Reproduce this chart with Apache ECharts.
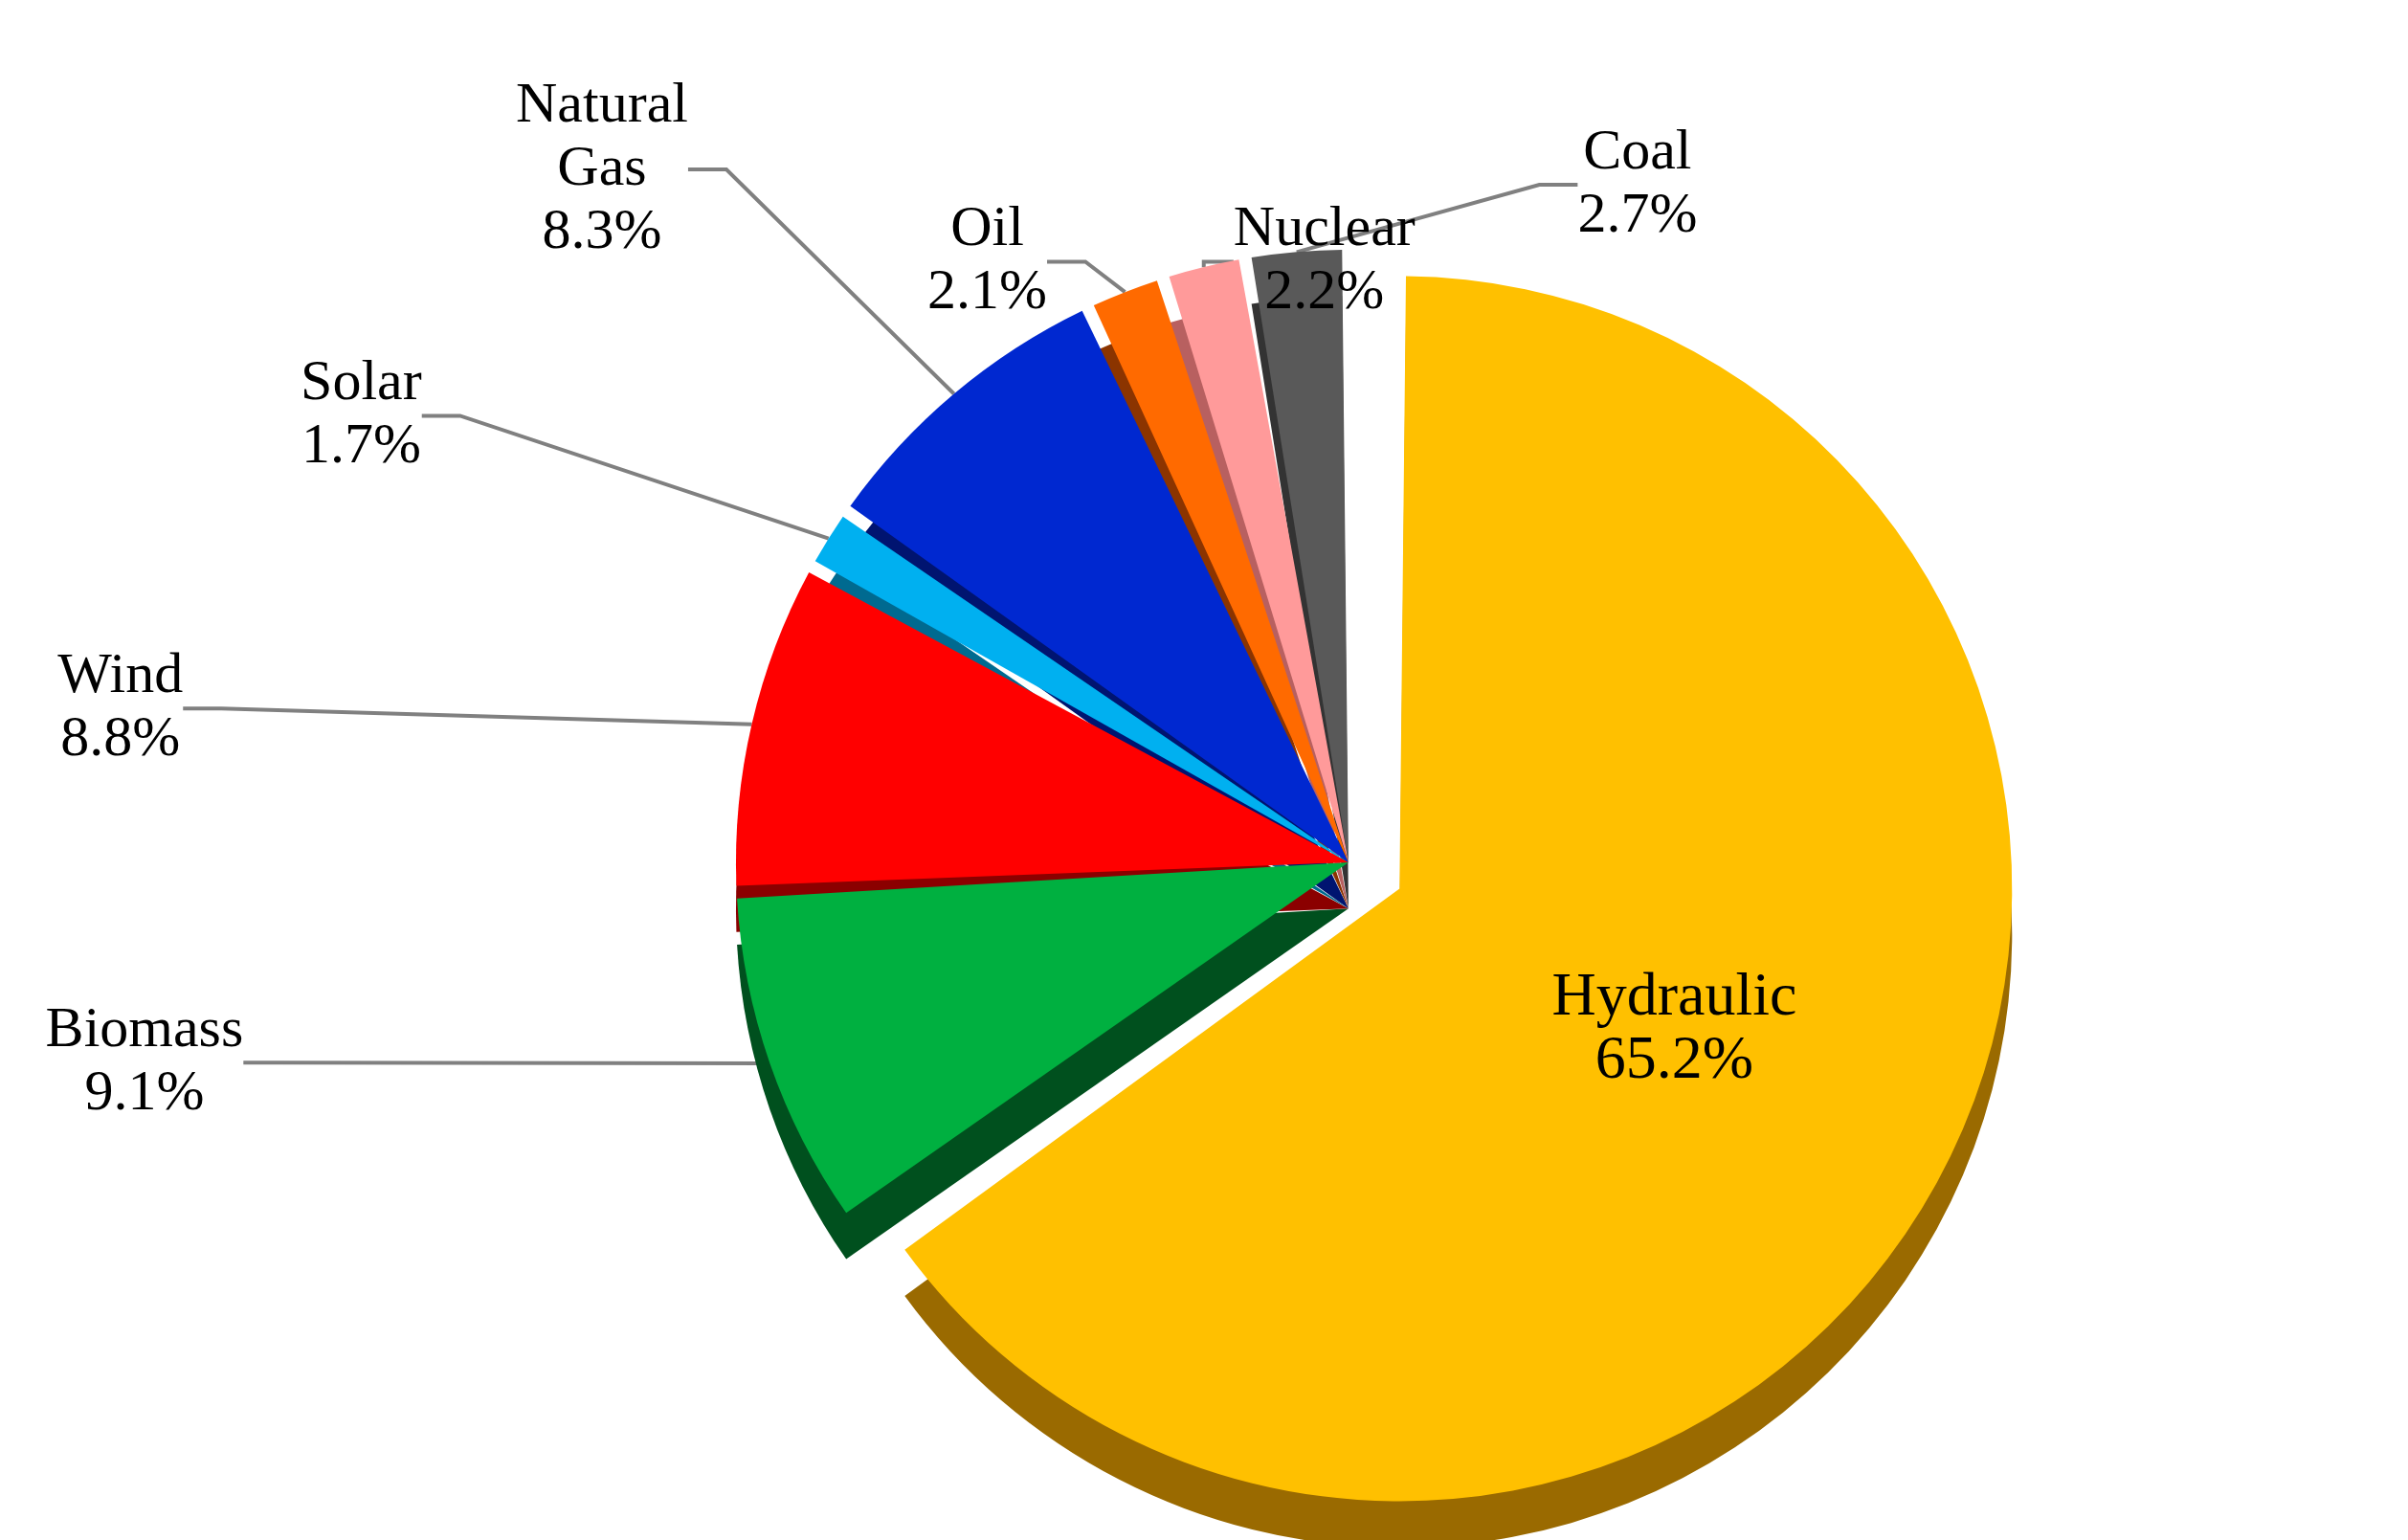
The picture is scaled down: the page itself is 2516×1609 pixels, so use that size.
<!DOCTYPE html>
<html><head><meta charset="utf-8">
<script src="https://cdn.jsdelivr.net/npm/echarts@6/dist/echarts.min.js"></script>
<style>html,body{margin:0;background:#fff}#main{width:2516px;height:1609px}</style>
</head><body><div id="main"></div>
<script>
// clockwise from 12 o'clock
const names = ["Hydraulic", "Biomass", "Wind", "Solar", "Natural\nGas", "Oil", "Nuclear", "Coal"];
const values = [65.2, 9.1, 8.8, 1.7, 8.3, 2.1, 2.2, 2.7];
const colors = ["#FFC000", "#00B040", "#FF0000", "#00B0F0", "#0028D0", "#FF6A00", "#FF9A9A", "#595959"];
const sideColors = ["#9A6A00", "#00501E", "#8B0000", "#006A90", "#001470", "#8B3400", "#B86060", "#333333"];
// where each label sits (fraction of width / height)
const labelPos = [null, [0.06, 0.69], [0.05, 0.46], [0.15, 0.27], [0.25, 0.11], [0.41, 0.17], [0.55, 0.17], [0.68, 0.12]];

const chart = echarts.init(document.getElementById("main"));
const W = 2516, H = 1609;
const radius = 640;

chart.setOption({
  series: [
    {
      type: "pie",
      silent: true,
      center: ["56%", "59%"],
      radius: radius,
      startAngle: 90,
      padAngle: 1.2,
      selectedMode: "multiple",
      selectedOffset: 60,
      label: { show: false },
      labelLine: { show: false },
      data: values.map((v, i) => ({
        value: v, name: names[i], selected: i === 0,
        itemStyle: { color: sideColors[i] }
      }))
    },
    {
      type: "pie",
      center: ["56%", "56%"],
      radius: radius,
      startAngle: 90,
      padAngle: 1.2,
      selectedMode: "multiple",
      selectedOffset: 60,
      label: {
        fontFamily: "Liberation Serif",
        fontSize: 60,
        color: "#000",
        lineHeight: 66,
        align: "center",
        formatter: p => p.name + "\n" + p.value.toFixed(1) + "%"
      },
      labelLine: { length: 40, length2: 40, lineStyle: { color: "#808080", width: 4 } },
      labelLayout: p => {
        const pos = labelPos[p.dataIndex];
        if (!pos) return {};
        return { x: pos[0] * W, y: pos[1] * H, align: "center", verticalAlign: "middle" };
      },
      data: values.map((v, i) => ({
        value: v, name: names[i], selected: i === 0,
        itemStyle: { color: colors[i] },
        label: i === 0 ? { position: "inside", fontSize: 64 } : {}
      }))
    }
  ]
});
</script></body></html>
